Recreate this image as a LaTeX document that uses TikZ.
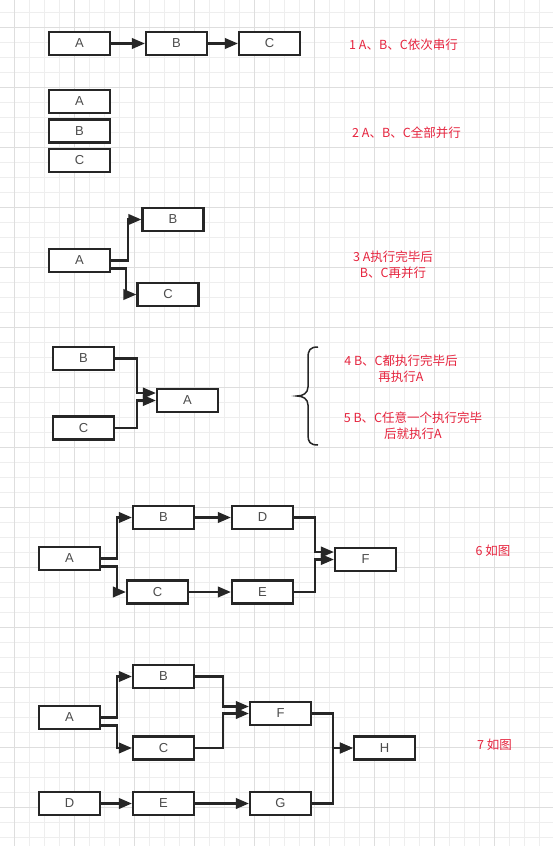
\documentclass[tikz,border=0pt]{standalone}
\usepackage{fontspec}
\setmainfont{Liberation Sans}
\newfontfamily\cjk{Noto Sans CJK SC}
\usetikzlibrary{arrows.meta, positioning}
\definecolor{notered}{RGB}{230, 36, 62}
\definecolor{boxline}{RGB}{38, 38, 38}
\definecolor{gridminor}{RGB}{238, 238, 238}
\definecolor{gridmajor}{RGB}{222, 222, 222}

\begin{document}
\begin{tikzpicture}[x=1pt, y=-1pt,
    task/.style={draw=boxline, line width=2.2pt, fill=white, minimum width=61pt, minimum height=23pt,
                 inner sep=0pt, font=\fontsize{13}{15}\selectfont, text=black!70},
    flow/.style={draw=boxline, line width=2.2pt, -{Triangle[length=13pt, width=10.5pt]}},
    note/.style={text=notered, align=center, font=\cjk\fontsize{12.5}{16}\selectfont}]
            % background with grid
            \useasboundingbox (0,0) rectangle (553,846);
            \fill[white] (0,0) rectangle (553,846);
            \foreach \gx in {14,29,...,549} \draw[gridminor, line width=0.8pt] (\gx,0) -- (\gx,846);
            \foreach \gy in {12,27,...,842} \draw[gridminor, line width=0.8pt] (0,\gy) -- (553,\gy);
            \foreach \gx in {14,74,...,549} \draw[gridmajor, line width=0.9pt] (\gx,0) -- (\gx,846);
            \foreach \gy in {27,87,...,842} \draw[gridmajor, line width=0.9pt] (0,\gy) -- (553,\gy);

            % 1: serial
            \node[task] (a1) at (79.5,43.5) {A};
            \node[task] (b1) at (176.5,43.5) {B};
            \node[task] (c1) at (269.5,43.5) {C};
            \draw[flow] (a1) -- (b1);
            \draw[flow] (b1) -- (c1);
            \node[note] (t1) at (403.5,45) {1 A、B、C依次串行};

            % 2: all parallel
            \node[task] (a2) at (79.5,101.5) {A};
            \node[task] (b2) at (79.5,131) {B};
            \node[task] (c2) at (79.5,160.5) {C};
            \node[note] (t2) at (406.5,133) {2 A、B、C全部并行};

            % 3: A then B and C
            \node[task] (a3) at (79.5,260.5) {A};
            \node[task] (b3) at (173,219.5) {B};
            \node[task] (c3) at (168,294.5) {C};
            \draw[flow] (a3.east) -- ++(17,0) |- (b3.west);
            \draw[flow] ([yshift=-8pt]a3.east) -- ++(15,0) |- (c3.west);
            \node[note] (t3) at (393,264.5) {3 A执行完毕后\\B、C再并行};

            % 4 and 5: B and C into A
            \node[task] (b4) at (83.5,358.5) {B};
            \node[task] (c4) at (83.5,428) {C};
            \node[task] (a4) at (187.5,400.5) {A};
            \draw[flow] (b4.east) -- ++(22,0) |- ([yshift=7.5pt]a4.west);
            \draw[flow] (c4.east) -- ++(22,0) |- (a4.west);
            \draw[boxline, line width=1.5pt] (318,347) .. controls (310,347) and (308,350) .. (308,358)
                -- (308,387) .. controls (308,393) and (303,396) .. (297,396)
                .. controls (303,396) and (308,399) .. (308,405)
                -- (308,435) .. controls (308,442) and (310,445) .. (318,445);
            \node[note] (t4) at (401,368.5) {4 B、C都执行完毕后\\再执行A};
            \node[note] (t5) at (413,426) {5 B、C任意一个执行完毕\\后就执行A};

            % 6: two branches joined at F
            \node[task] (a6) at (69.5,558.5) {A};
            \node[task] (b6) at (163.5,517.5) {B};
            \node[task] (d6) at (262.5,517.5) {D};
            \node[task] (c6) at (157.5,592) {C};
            \node[task] (e6) at (262.5,592) {E};
            \node[task] (f6) at (365.5,559.5) {F};
            \draw[flow] (a6.east) -- ++(16,0) |- (b6.west);
            \draw[flow] ([yshift=-8pt]a6.east) -- ++(16,0) |- (c6.west);
            \draw[flow] (b6) -- (d6);
            \draw[flow] (c6) -- (e6);
            \draw[flow] (d6.east) -- ++(21,0) |- ([yshift=7.5pt]f6.west);
            \draw[flow] (e6.east) -- ++(21,0) |- (f6.west);
            \node[note] (t6) at (493,551) {6 如图};

            % 7: F and G joined at H
            \node[task] (a7) at (69.5,717.5) {A};
            \node[task] (b7) at (163.5,676.5) {B};
            \node[task] (c7) at (163.5,748) {C};
            \node[task] (f7) at (280.5,713.5) {F};
            \node[task] (h7) at (384.5,748) {H};
            \node[task] (d7) at (69.5,803.5) {D};
            \node[task] (e7) at (163.5,803.5) {E};
            \node[task] (g7) at (280.5,803.5) {G};
            \draw[flow] (a7.east) -- ++(16,0) |- (b7.west);
            \draw[flow] ([yshift=-8pt]a7.east) -- ++(16,0) |- (c7.west);
            \draw[flow] (b7.east) -- ++(28,0) |- ([yshift=7pt]f7.west);
            \draw[flow] (c7.east) -- ++(28,0) |- (f7.west);
            \draw[flow] (f7.east) -- ++(21,0) |- (h7.west);
            \draw[flow] (g7.east) -- ++(21,0) |- (h7.west);
            \draw[flow] (d7) -- (e7);
            \draw[flow] (e7) -- (g7);
            \node[note] (t7) at (494.5,745) {7 如图};
        \end{tikzpicture}
\end{document}
